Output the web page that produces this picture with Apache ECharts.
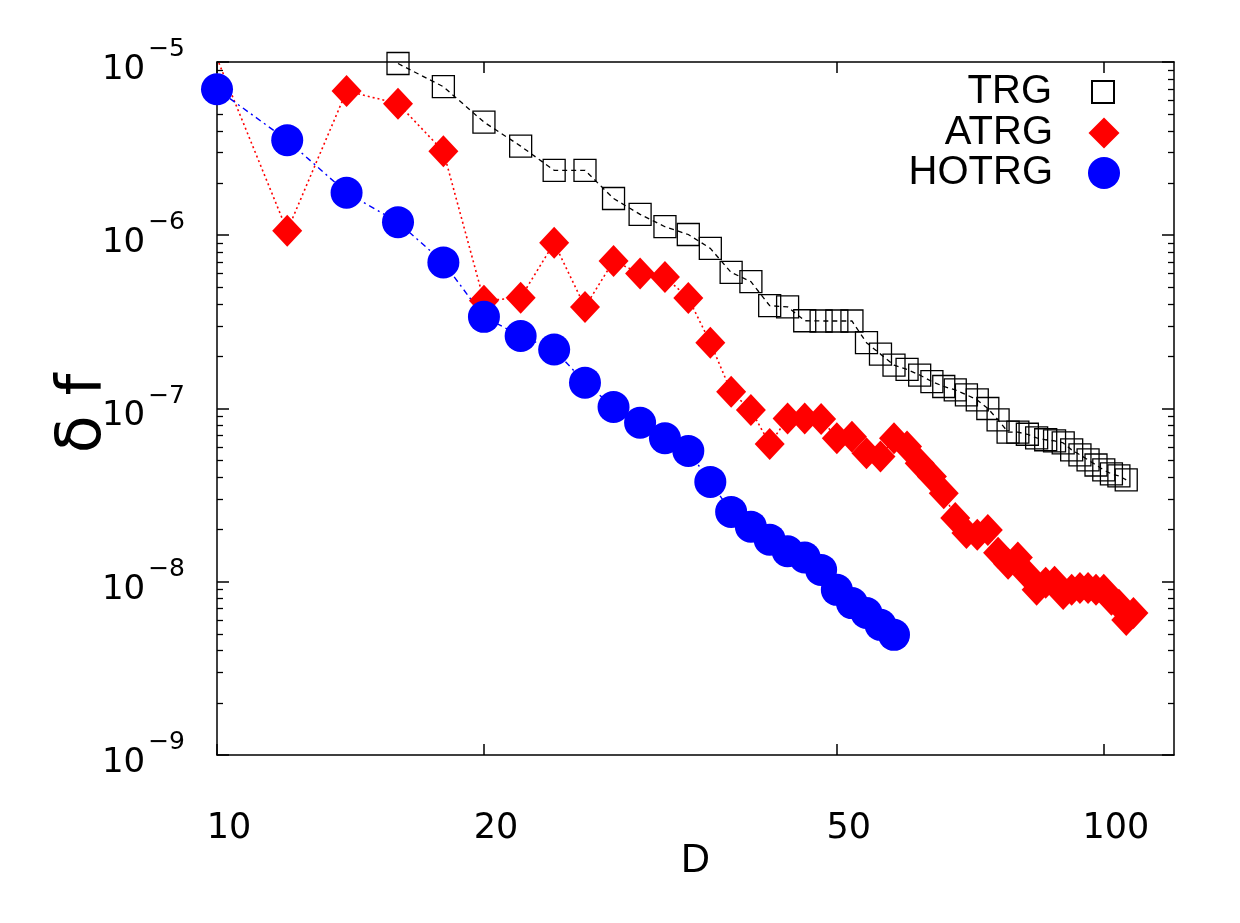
<!DOCTYPE html>
<html lang="en">
<head>
<meta charset="UTF-8">
<title>delta f vs D</title>
<script src="https://cdn.jsdelivr.net/npm/echarts@6/dist/echarts.min.js"></script>
<style>
    html, body { margin: 0; padding: 0; background: #fff; }
    #container { width: 1240px; height: 923px; }
</style>
</head>
<body>
<div id="container"></div>
<script type="text/javascript">
    // bond dimension D and free energy error for each method
    var dTRG = [16, 18, 20, 22, 24, 26, 28, 30, 32, 34, 36, 38, 40, 42, 44, 46, 48, 50, 52, 54,
        56, 58, 60, 62, 64, 66, 68, 70, 72, 74, 76, 78, 80, 82, 84, 86, 88, 90, 92, 94,
        96, 98, 100, 102, 104, 106];
    var trg = [9.8e-6, 7.2e-6, 4.5e-6, 3.27e-6, 2.37e-6, 2.37e-6, 1.63e-6, 1.32e-6, 1.12e-6, 1.01e-6,
        8.4e-7, 6.1e-7, 5.4e-7, 3.92e-7, 3.86e-7, 3.21e-7, 3.2e-7, 3.2e-7, 3.2e-7, 2.4e-7,
        2.06e-7, 1.78e-7, 1.68e-7, 1.56e-7, 1.43e-7, 1.34e-7, 1.28e-7, 1.2e-7, 1.12e-7, 1.0e-7,
        8.6e-8, 7.3e-8, 7.3e-8, 7.1e-8, 6.76e-8, 6.6e-8, 6.5e-8, 6.33e-8, 5.77e-8, 5.4e-8,
        5.05e-8, 4.72e-8, 4.42e-8, 4.19e-8, 4.08e-8, 3.87e-8];

    var dATRG = [10, 12, 14, 16, 18, 20, 22, 24, 26, 28, 30, 32, 34, 36, 38, 40, 42, 44, 46, 48,
        50, 52, 54, 56, 58, 60, 62, 64, 66, 68, 70, 72, 74, 76, 78, 80, 82, 84, 86, 88,
        90, 92, 94, 96, 98, 100, 102, 104, 106, 108];
    var atrg = [1.05e-5, 1.06e-6, 6.8e-6, 5.75e-6, 3.05e-6, 4.19e-7, 4.36e-7, 9.04e-7, 3.85e-7, 7.11e-7,
        6.02e-7, 5.75e-7, 4.34e-7, 2.4e-7, 1.25e-7, 9.8e-8, 6.24e-8, 8.77e-8, 8.77e-8, 8.7e-8,
        6.73e-8, 6.88e-8, 5.52e-8, 5.28e-8, 6.73e-8, 6.03e-8, 4.83e-8, 4.05e-8, 3.24e-8, 2.33e-8,
        1.91e-8, 1.87e-8, 1.99e-8, 1.47e-8, 1.27e-8, 1.38e-8, 1.1e-8, 8.98e-9, 9.86e-9, 1.0e-8,
        8.5e-9, 8.98e-9, 9.2e-9, 9.2e-9, 8.98e-9, 8.98e-9, 7.87e-9, 7.36e-9, 6.02e-9, 6.6e-9];

    var dHOTRG = [10, 12, 14, 16, 18, 20, 22, 24, 26, 28, 30, 32, 34, 36, 38, 40, 42, 44, 46, 48,
        50, 52, 54, 56, 58];
    var hotrg = [6.96e-6, 3.54e-6, 1.76e-6, 1.19e-6, 6.97e-7, 3.38e-7, 2.62e-7, 2.19e-7, 1.41e-7, 1.02e-7,
        8.28e-8, 6.73e-8, 5.69e-8, 3.77e-8, 2.53e-8, 2.08e-8, 1.75e-8, 1.5e-8, 1.38e-8, 1.17e-8,
        8.98e-9, 7.53e-9, 6.6e-9, 5.64e-9, 4.94e-9];

    var xTicks = [10, 20, 50, 100];

    function pairs(xs, ys) {
        return xs.map(function (x, i) { return [x, ys[i]]; });
    }

    var dom = document.getElementById('container');
    var myChart = echarts.init(dom, null, { renderer: 'canvas' });

    var tickFont = 'DejaVu Sans';
    var axisLine = { show: true, lineStyle: { color: '#000', width: 1.5 } };
    var tickStyle = { color: '#000', width: 1.5 };

    function xAxisOf(pos, showLabel) {
        return {
            type: 'log',
            logBase: 10,
            position: pos,
            min: 10,
            max: 120,
            name: showLabel ? 'D' : '',
            nameLocation: 'middle',
            nameGap: 86,
            nameMoveOverlap: false,
            nameTextStyle: { fontFamily: 'Liberation Sans', fontSize: 40, color: '#000' },
            axisLine: axisLine,
            splitLine: { show: false },
            axisTick: { show: true, inside: true, length: 11, lineStyle: tickStyle, customValues: xTicks },
            axisLabel: {
                show: showLabel,
                customValues: xTicks,
                margin: 56,
                padding: [0, 0, 0, 24],
                fontFamily: tickFont,
                fontSize: 35,
                color: '#000'
            }
        };
    }

    function yAxisOf(pos, showLabel) {
        return {
            type: 'log',
            logBase: 10,
            position: pos,
            min: 1e-9,
            max: 1e-5,
            interval: 1,
            name: showLabel ? 'δ f' : '',
            nameLocation: 'middle',
            nameRotate: 90,
            nameGap: 102,
            nameMoveOverlap: false,
            nameTextStyle: { fontFamily: 'DejaVu Sans', fontSize: 62, color: '#000', padding: [0, 10, 0, 0] },
            axisLine: axisLine,
            splitLine: { show: false },
            axisTick: { show: true, inside: true, length: 12, lineStyle: tickStyle },
            minorTick: { show: true, splitNumber: 9, length: 6, lineStyle: { color: '#000', width: 1.3 } },
            axisLabel: {
                show: showLabel,
                margin: 32,
                formatter: function (v) {
                    var e = Math.round(Math.log10(v));
                    return '{a|10}{b|\u2212' + (-e) + '}';
                },
                rich: {
                    a: { fontFamily: tickFont, fontSize: 34, lineHeight: 50, verticalAlign: 'bottom', color: '#000' },
                    b: { fontFamily: tickFont, fontSize: 25, lineHeight: 25, verticalAlign: 'top', color: '#000', padding: [0, 0, 0, 3] }
                }
            }
        };
    }

    function legendOf(name, icon, size, top) {
        return {
            data: [{ name: name, icon: icon }],
            right: 1240 - (1104 + size / 2),
            top: top,
            itemWidth: size,
            itemHeight: size,
            align: 'right',
            padding: 0,
            selectedMode: false,
            textStyle: {
                fontFamily: 'Liberation Sans', fontSize: 40, lineHeight: 40, color: '#000',
                padding: [0, 46 - size / 2, 0, 0]
            }
        };
    }

    var option = {
        backgroundColor: '#fff',
        animation: false,
        grid: { left: 217, right: 66, top: 62, bottom: 168, outerBoundsMode: 'none' },
        legend: [
            legendOf('TRG', 'rect', 22, 72),
            legendOf('ATRG', 'diamond', 31, 113),
            legendOf('HOTRG', 'circle', 32, 153)
        ],
        xAxis: [xAxisOf('bottom', true), xAxisOf('top', false)],
        yAxis: [yAxisOf('left', true), yAxisOf('right', false)],
        series: [
            {
                name: 'TRG',
                type: 'line',
                data: pairs(dTRG, trg),
                symbol: 'rect',
                symbolSize: 22,
                clip: true,
                itemStyle: { color: 'rgba(0,0,0,0)', borderColor: '#000', borderWidth: 1.3 },
                lineStyle: { color: '#000', width: 1.3, type: [5, 4] }
            },
            {
                name: 'ATRG',
                type: 'line',
                data: pairs(dATRG, atrg),
                symbol: 'diamond',
                symbolSize: [30, 32],
                clip: true,
                itemStyle: { color: '#ff0000' },
                lineStyle: { color: '#ff0000', width: 1.6, type: [2, 3] }
            },
            {
                name: 'HOTRG',
                type: 'line',
                data: pairs(dHOTRG, hotrg),
                symbol: 'circle',
                symbolSize: 32,
                clip: true,
                itemStyle: { color: '#0000ff' },
                lineStyle: { color: '#0000ff', width: 1.4, type: [6, 4, 2, 4] }
            }
        ]
    };
    myChart.setOption(option);
    window.addEventListener('resize', myChart.resize);
</script>
</body>
</html>
